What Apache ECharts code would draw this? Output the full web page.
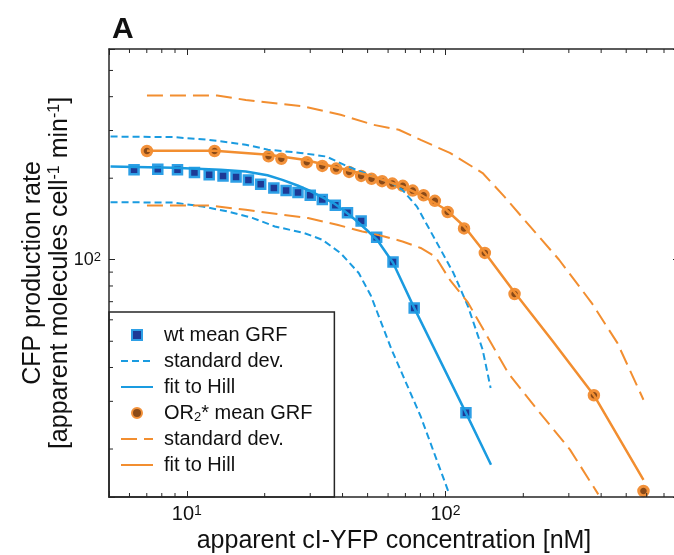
<!DOCTYPE html>
<html>
<head>
<meta charset="utf-8">
<script src="https://cdn.jsdelivr.net/npm/echarts@6/dist/echarts.min.js"></script>
<style>
html, body { margin: 0; padding: 0; background: #fff; }
#chart { width: 674px; height: 555px; }
</style>
</head>
<body>
<div id="chart"></div>
<script>
// axis ranges and tick values
var xMin = 5, xMax = 800;
var yMin = 13.3, yMax = 600;
var xMinorTicks = [6, 7, 8, 9, 20, 30, 40, 50, 60, 70, 80, 90, 200, 300, 400, 500, 600, 700];
var yMinorTicks = [20, 30, 40, 50, 60, 70, 80, 90, 200, 300, 400, 500];

// wt mean GRF
var wtX = [6.25, 7.72, 9.2, 10.7, 12.2, 13.8, 15.5, 17.3, 19.3, 21.7, 24.2, 26.9, 30.0, 33.4, 37.5, 41.8, 47.2, 54.2, 62.7, 75.7, 120];
var wtY = [215, 216, 215, 210, 206, 204, 202, 197, 190, 184, 180, 177, 173, 167, 159, 149, 139, 121, 98, 66.4, 27.2];
// wt standard dev. (upper / lower)
var wtUpX = [5.07, 8.85, 12.2, 16.9, 20.6, 27.5, 34.6, 41.9, 52.6, 61.9, 68.2, 77.6, 91.3, 107.4, 122.3, 139.2, 149.5];
var wtUpY = [285, 283.7, 277, 266, 255, 248, 240.5, 221, 203, 192, 181, 157, 118.5, 89.3, 67.2, 46.6, 33.6];
var wtLoX = [5.07, 8.85, 11.5, 14.4, 18.0, 21.9, 28.4, 33.4, 39.3, 46.2, 51.5, 61.9, 80.2, 103];
var wtLoY = [163, 162.7, 157.3, 150.7, 142.5, 132.7, 125.5, 118.5, 105.8, 89.3, 73.6, 46.6, 26.4, 13.8];
// wt fit to Hill
var wtFitX = [5.07, 8.85, 13.5, 16.9, 20.5, 23.4, 26.8, 30.3, 33.5, 36.9, 40.8, 44.8, 49.5, 54.4, 62.7, 75.7, 120, 150];
var wtFitY = [221, 218.6, 215, 211.7, 205, 197.2, 188, 178.6, 170, 161.9, 151, 140.5, 129, 118.5, 97.5, 66.4, 27.2, 17.5];

// OR2* mean GRF
var orX = [7.01, 12.8, 20.7, 23.2, 29.1, 33.4, 37.8, 42.4, 47.2, 51.8, 56.9, 62.3, 68.4, 74.7, 82.3, 91, 102, 118, 142, 185, 375, 583];
var orY = [252, 252, 241, 236, 229, 222, 217, 211, 204, 199, 195, 191, 187.5, 180, 173, 165, 150, 130.5, 106, 74.7, 31.6, 14.0];
// OR2* standard dev. (upper / lower)
var orUpX = [7.01, 13.1, 16.9, 28.4, 39.3, 52.6, 66.0, 80.2, 104, 139.2, 169, 212, 275, 368, 462, 583];
var orUpY = [404, 404, 389, 368, 343, 315, 302, 277, 248, 209, 171, 133, 100, 69.2, 49.3, 30.4];
var orLoX = [7.01, 12.2, 16.9, 23.4, 29.4, 38.1, 47.7, 58, 68.2, 80.2, 91.3, 104, 122.3, 143.8, 174.7, 226.3, 303, 390];
var orLoY = [158.6, 158.6, 152.9, 146.6, 142.5, 134.6, 127.2, 121.9, 116.8, 110.5, 102.8, 84.3, 69.4, 52.9, 38.2, 28.0, 19.9, 13.6];
// OR2* fit to Hill
var orFitX = [7.01, 12.8, 20.7, 28.4, 38.1, 52.6, 68.2, 80.2, 90, 100.6, 118.3, 141.9, 184.2, 260, 375, 583];
var orFitY = [252.5, 252.5, 244, 233.9, 219.1, 203, 186.4, 173.7, 163, 152.9, 132.7, 106.4, 76.2, 50, 31.6, 15.4];

var legendText = {
    'wt mean': 'wt mean GRF',
    'wt sd': 'standard dev.',
    'wt fit': 'fit to Hill',
    'or mean': 'OR{sub|2}* mean GRF',
    'or sd': 'standard dev.',
    'or fit': 'fit to Hill'
};

var font = '"Liberation Sans", Arial, sans-serif';
var blue = '#1a9be0';
var orange = '#f28e30';
var axisColor = '#262626';

function pairs(xs, ys) {
    return xs.map(function (x, i) { return [x, ys[i]]; });
}

function decadeLabel(v) {
    var l = Math.log10(v);
    var e = Math.round(l);
    if (Math.abs(l - e) > 1e-6) return '';
    return '{b|10}{s|' + e + '}';
}

function minorTicks(dim, values) {
    return {
        type: 'custom',
        silent: true,
        clip: false,
        z: 10,
        data: values.map(function (v) { return dim === 'x' ? [v, yMin] : [xMin, v]; }),
        renderItem: function (params, api) {
            var cs = params.coordSys;
            var p = api.coord([api.value(0), api.value(1)]);
            var st = { stroke: axisColor, lineWidth: 1 };
            var len = 4;
            if (dim === 'x') {
                var b = cs.y + cs.height;
                return { type: 'group', children: [
                    { type: 'line', shape: { x1: p[0], y1: b, x2: p[0], y2: b - len }, style: st },
                    { type: 'line', shape: { x1: p[0], y1: cs.y, x2: p[0], y2: cs.y + len }, style: st }
                ]};
            }
            var r = cs.x + cs.width;
            return { type: 'group', children: [
                { type: 'line', shape: { x1: cs.x, y1: p[1], x2: cs.x + len, y2: p[1] }, style: st },
                { type: 'line', shape: { x1: r, y1: p[1], x2: r - len, y2: p[1] }, style: st }
            ]};
        }
    };
}

function lineSeries(name, xs, ys, color, width, dash) {
    return {
        name: name, type: 'line', data: pairs(xs, ys), symbol: 'none',
        lineStyle: { color: color, width: width, type: dash || 'solid' },
        itemStyle: { color: color, opacity: 0 }
    };
}

function labelRich(size, supSize) {
    return {
        b: { fontFamily: font, fontSize: size, color: '#111' },
        s: { fontFamily: font, fontSize: supSize, color: '#111', verticalAlign: 'top' }
    };
}

var chart = echarts.init(document.getElementById('chart'));

var option = {
    animation: false,
    title: {
        text: 'A',
        left: 107,
        top: 10,
        textStyle: { fontFamily: font, fontSize: 30, fontWeight: 'bold', color: '#111' }
    },
    grid: {
        left: 109, top: 49, width: 570, height: 448,
        containLabel: false, outerBoundsMode: 'none'
    },
    legend: {
        orient: 'vertical',
        left: 109,
        top: 312,
        data: [
            { name: 'wt mean', icon: 'path://M0,0H10V10H0Z', symbolKeepAspect: true },
            'wt sd', 'wt fit', 'or mean', 'or sd', 'or fit'
        ],
        selectedMode: false,
        symbolKeepAspect: true,
        itemWidth: 32,
        itemHeight: 10,
        itemGap: 4,
        padding: [12, 22, 21, 11],
        borderColor: axisColor,
        borderWidth: 1.5,
        borderRadius: 0,
        backgroundColor: '#fff',
        formatter: function (name) { return legendText[name]; },
        textStyle: {
            fontFamily: font, fontSize: 20, color: '#111', lineHeight: 22,
            padding: [0, 0, 0, 6],
            rich: { sub: { fontFamily: font, fontSize: 13, lineHeight: 13, color: '#111', verticalAlign: 'bottom' } }
        }
    },
    xAxis: [{
        type: 'log', logBase: 10, min: xMin, max: xMax, z: 5,
        name: 'apparent cI-YFP concentration [nM]',
        nameLocation: 'middle', nameGap: 32, nameMoveOverlap: false,
        nameTextStyle: { fontFamily: font, fontSize: 25, color: '#111' },
        axisLine: { lineStyle: { color: axisColor, width: 1.5 } },
        axisTick: { inside: true, length: 6, lineStyle: { color: axisColor } },
        axisLabel: { margin: 7, formatter: decadeLabel, rich: labelRich(20, 14) },
        splitLine: { show: false }
    }, {
        type: 'log', logBase: 10, min: xMin, max: xMax, position: 'top', z: 5,
        axisLine: { lineStyle: { color: axisColor, width: 1.5 } },
        axisTick: { inside: true, length: 6, lineStyle: { color: axisColor } },
        axisLabel: { show: false },
        splitLine: { show: false }
    }],
    yAxis: [{
        type: 'log', logBase: 10, min: yMin, max: yMax, z: 5,
        name: 'CFP production rate\n[apparent molecules cell{s|-1} min{s|-1}]',
        nameLocation: 'middle', nameGap: 35, nameMoveOverlap: false,
        nameTextStyle: {
            fontFamily: font, fontSize: 25, color: '#111', lineHeight: 27,
            rich: { s: { fontFamily: font, fontSize: 16, lineHeight: 16, color: '#111', verticalAlign: 'top' } }
        },
        axisLine: { lineStyle: { color: axisColor, width: 1.5 } },
        axisTick: { inside: true, length: 6, lineStyle: { color: axisColor } },
        axisLabel: { margin: 8, formatter: decadeLabel, rich: labelRich(18, 13) },
        splitLine: { show: false }
    }, {
        type: 'log', logBase: 10, min: yMin, max: yMax, position: 'right', z: 5,
        axisLine: { lineStyle: { color: axisColor, width: 1.5 } },
        axisTick: { inside: true, length: 6, lineStyle: { color: axisColor } },
        axisLabel: { show: false },
        splitLine: { show: false }
    }],
    series: [
        lineSeries('wt sd', wtUpX, wtUpY, blue, 2, [7, 4]),
        lineSeries('wt sd', wtLoX, wtLoY, blue, 2, [7, 4]),
        lineSeries('or sd', orUpX, orUpY, orange, 2, [16, 7]),
        lineSeries('or sd', orLoX, orLoY, orange, 2, [16, 7]),
        lineSeries('wt fit', wtFitX, wtFitY, blue, 2.5),
        lineSeries('or fit', orFitX, orFitY, orange, 2.5),
        {
            name: 'wt mean', type: 'scatter', data: pairs(wtX, wtY), symbol: 'rect', symbolSize: 9,
            itemStyle: { color: '#1d3a96', borderColor: '#2d9fe6', borderWidth: 2.5, opacity: 1 }
        },
        {
            name: 'or mean', type: 'scatter', data: pairs(orX, orY), symbol: 'circle', symbolSize: 9.5,
            itemStyle: { color: '#8a4a18', borderColor: '#f2913a', borderWidth: 3, opacity: 1 }
        },
        minorTicks('x', xMinorTicks),
        minorTicks('y', yMinorTicks)
    ]
};

chart.setOption(option);
</script>
</body>
</html>
